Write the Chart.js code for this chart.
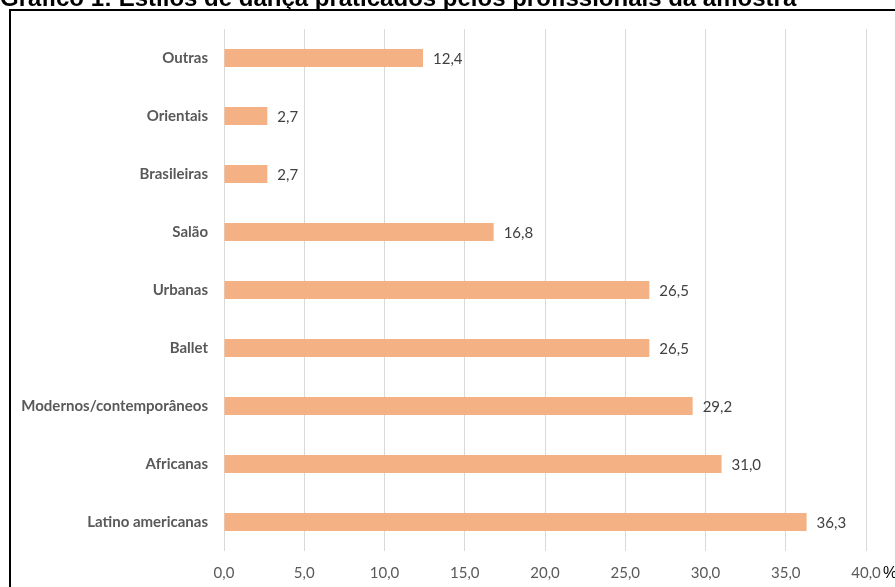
<!DOCTYPE html>
<html>
<head>
<meta charset="utf-8">
<script src="https://cdn.jsdelivr.net/npm/chart.js@4.4.1/dist/chart.umd.min.js"></script>
<style>
  html, body { margin: 0; padding: 0; background: #fff; }
  #wrap { position: relative; width: 895px; height: 587px; }
</style>
</head>
<body>
<div id="wrap"><canvas id="c" width="895" height="587"></canvas></div>
<script>
// Estilos de dança praticados (%)
const categories = [
  'Outras', 'Orientais', 'Brasileiras', 'Salão', 'Urbanas',
  'Ballet', 'Modernos/contemporâneos', 'Africanas', 'Latino americanas'
];
const percentages = [12.4, 2.7, 2.7, 16.8, 26.5, 26.5, 29.2, 31.0, 36.3];
const tickValues = [0, 5, 10, 15, 20, 25, 30, 35, 40];
const titleText = 'Gráfico 1: Estilos de dança praticados pelos profissionais da amostra';

const fmt = v => v.toFixed(1).replace('.', ',');
const LABEL_FONT = 'Lato, "Open Sans", sans-serif';

// Title above the frame plus the frame lines
const framePlugin = {
  id: 'frame',
  beforeDraw(chart) {
    const ctx = chart.ctx;
    ctx.save();
    ctx.fillStyle = '#fff';
    ctx.fillRect(0, 0, chart.width, chart.height);
    ctx.fillStyle = '#000';
    ctx.font = 'bold 24px "Liberation Sans", Arial, sans-serif';
    ctx.textBaseline = 'alphabetic';
    ctx.textAlign = 'left';
    ctx.fillText(titleText, 0, 6);
    ctx.strokeStyle = '#000';
    ctx.lineWidth = 2;
    ctx.beginPath();
    ctx.moveTo(10, chart.height);
    ctx.lineTo(10, 10);
    ctx.lineTo(chart.width, 10);
    ctx.stroke();
    ctx.restore();
  }
};

// Value labels at the end of each bar, and the unit sign after the last tick
const valuePlugin = {
  id: 'values',
  afterDatasetsDraw(chart) {
    const ctx = chart.ctx;
    const meta = chart.getDatasetMeta(0);
    ctx.save();
    ctx.fillStyle = '#404040';
    ctx.font = '15px ' + LABEL_FONT;
    ctx.textAlign = 'left';
    ctx.textBaseline = 'middle';
    meta.data.forEach((bar, i) => {
      ctx.fillText(fmt(percentages[i]), bar.x + 10, bar.y + 1);
    });
    const xs = chart.scales.x;
    const lastX = xs.getPixelForValue(tickValues[tickValues.length - 1]);
    ctx.fillStyle = '#000';
    ctx.font = '16px "Liberation Sans", Arial, sans-serif';
    ctx.fillText('%', lastX + 17, 574);
    ctx.restore();
  }
};

new Chart(document.getElementById('c'), {
  type: 'bar',
  data: {
    labels: categories,
    datasets: [{
      data: percentages,
      backgroundColor: '#F4B183',
      borderWidth: 0,
      barPercentage: 0.31,
      categoryPercentage: 1.0
    }]
  },
  options: {
    indexAxis: 'y',
    responsive: false,
    animation: false,
    devicePixelRatio: 1,
    layout: { padding: { left: 0, right: 29, top: 29, bottom: 0 } },
    plugins: {
      legend: { display: false },
      tooltip: { enabled: false },
      title: { display: false }
    },
    scales: {
      x: {
        min: 0, max: 40,
        afterBuildTicks(axis) { axis.ticks = tickValues.map(v => ({ value: v })); },
        afterFit(axis) { axis.height = 36; },
        grid: { color: '#d9d9d9', lineWidth: 1, drawTicks: false },
        border: { display: false },
        ticks: {
          color: '#595959',
          font: { family: LABEL_FONT, size: 15 },
          padding: 13,
          maxRotation: 0,
          callback: v => fmt(v)
        }
      },
      y: {
        afterFit(axis) { axis.width = 224; },
        grid: { display: false, drawTicks: false },
        border: { display: false },
        ticks: {
          color: '#595959',
          font: { family: LABEL_FONT, size: 15, weight: 'bold' },
          padding: 16
        }
      }
    }
  },
  plugins: [framePlugin, valuePlugin]
});
</script>
</body>
</html>
